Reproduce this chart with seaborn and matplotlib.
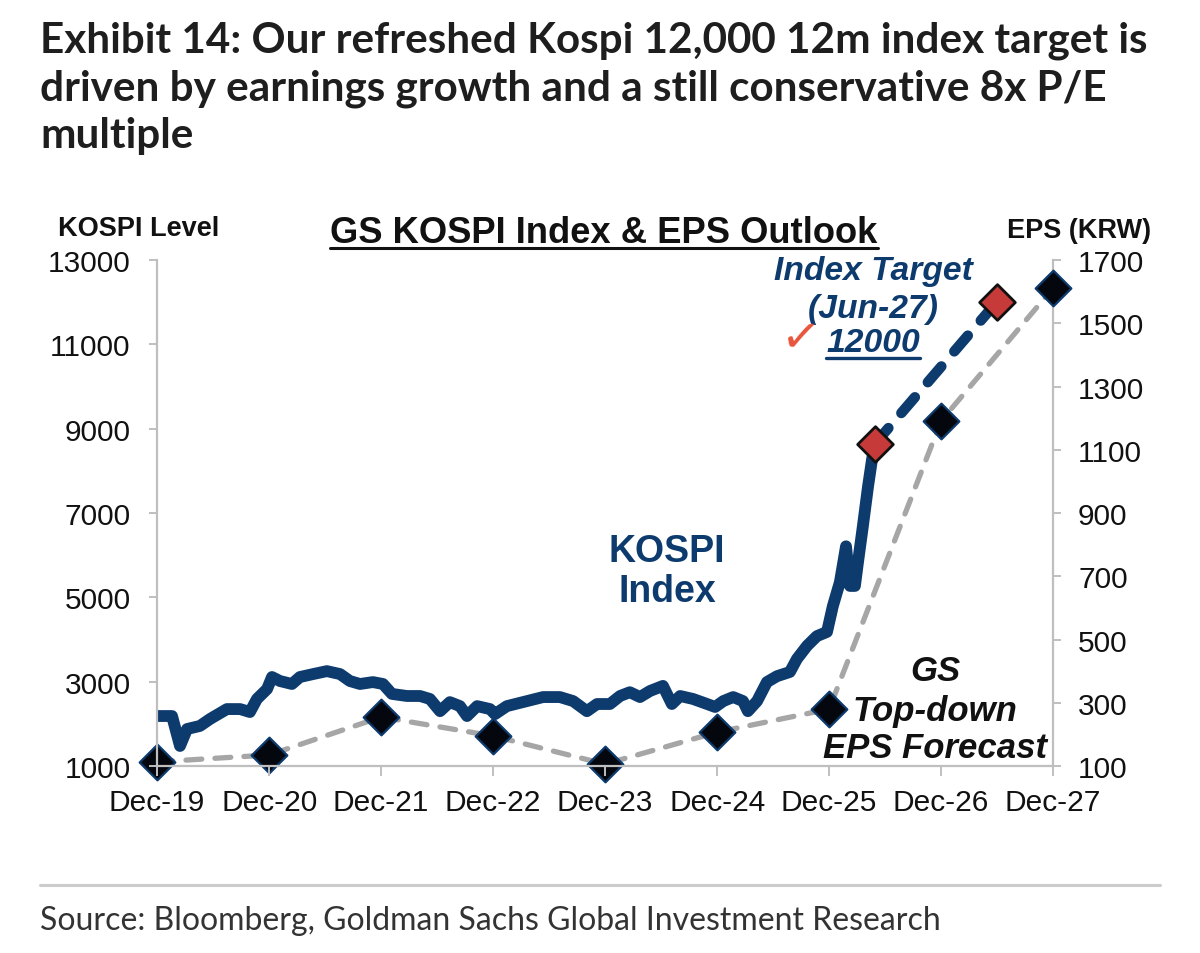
import matplotlib
matplotlib.use("Agg")
import matplotlib.pyplot as plt
from matplotlib.lines import Line2D
import pandas as pd
import seaborn as sns

# KOSPI index level
kospi_dates = [
    "2020-01-03", "2020-02-18", "2020-03-15", "2020-04-07", "2020-05-19", "2020-06-21",
    "2020-08-15", "2020-09-27", "2020-10-29", "2020-11-21", "2020-12-24", "2021-01-09",
    "2021-02-04", "2021-03-15", "2021-04-10", "2021-05-23", "2021-07-07", "2021-08-19",
    "2021-09-20", "2021-10-23", "2021-12-04", "2022-01-06", "2022-02-04", "2022-03-25",
    "2022-05-07", "2022-06-08", "2022-07-11", "2022-08-12", "2022-09-14", "2022-10-07",
    "2022-11-09", "2022-12-21", "2023-01-06", "2023-02-14", "2023-04-21", "2023-06-12",
    "2023-08-06", "2023-09-18", "2023-11-02", "2023-12-05", "2024-01-16", "2024-02-18",
    "2024-03-21", "2024-04-23", "2024-05-26", "2024-07-07", "2024-08-05", "2024-09-01",
    "2024-10-13", "2024-11-28", "2024-12-24", "2025-01-20", "2025-02-21", "2025-03-25",
    "2025-04-10", "2025-05-10", "2025-06-11", "2025-07-14", "2025-08-25", "2025-09-17",
    "2025-10-20", "2025-11-21", "2025-12-24", "2026-01-12", "2026-02-04", "2026-02-24",
    "2026-03-09", "2026-03-25", "2026-04-04", "2026-04-20", "2026-05-07", "2026-05-20",
    "2026-05-29",
]
kospi_level = [
    2185, 2185, 1475, 1877, 1950, 2115,
    2350, 2350, 2280, 2590, 2825, 3110,
    3015, 2945, 3110, 3180, 3250, 3180,
    3015, 2945, 2990, 2945, 2710, 2660,
    2660, 2590, 2300, 2515, 2420, 2185,
    2420, 2350, 2230, 2420, 2540, 2635,
    2635, 2540, 2300, 2470, 2470, 2660,
    2750, 2635, 2780, 2900, 2470, 2660,
    2590, 2470, 2400, 2540, 2635, 2540,
    2300, 2540, 2990, 3130, 3230, 3540,
    3850, 4080, 4180, 4790, 5360, 6210,
    5270, 5270, 5830, 6690, 7640, 8280,
    8590,
]

# GS top-down EPS (right axis)
eps_dates = ["2019-12-31", "2020-12-31", "2021-12-31", "2022-12-31", "2023-12-31",
             "2024-12-31", "2025-12-31", "2026-12-31", "2027-12-31"]
eps_krw = [113, 135, 255, 195, 106, 207, 280, 1191, 1611]

# index target path
target_dates = ["2026-05-29", "2027-06-30"]
target_level = [8640, 12000]

tick_labels = ["Dec-19", "Dec-20", "Dec-21", "Dec-22", "Dec-23",
               "Dec-24", "Dec-25", "Dec-26", "Dec-27"]
left_ticks = [1000, 3000, 5000, 7000, 9000, 11000, 13000]
right_ticks = [100, 300, 500, 700, 900, 1100, 1300, 1500, 1700]

NAVY = "#0D3B6E"
GREY = "#A6A6A6"
RED = "#C63B3A"
SPINE = "#BFBFBF"
W, H = 1200, 954

sns.set_style("white")
plt.rcParams["font.family"] = ["Liberation Sans", "DejaVu Sans"]

kospi = pd.DataFrame({"date": pd.to_datetime(kospi_dates), "level": kospi_level})
eps = pd.DataFrame({"date": pd.to_datetime(eps_dates), "eps": eps_krw})
target = pd.DataFrame({"date": pd.to_datetime(target_dates), "level": target_level})

fig = plt.figure(figsize=(W / 100, H / 100), dpi=100)
ax = fig.add_axes([157 / W, 1 - 767 / H, (1053 - 157) / W, (767 - 261) / H])
ax2 = ax.twinx()
ax.set_zorder(ax2.get_zorder() + 1)
ax.patch.set_visible(False)

# EPS line + diamonds on right axis
sns.lineplot(data=eps, x="date", y="eps", ax=ax2, color=GREY, lw=3.8,
             linestyle=(0, (3.0, 2.5)), dash_capstyle="round", clip_on=False)
sns.scatterplot(data=eps, x="date", y="eps", ax=ax2, marker="D", s=330,
                color="#05070F", edgecolor=NAVY, linewidth=1.6, clip_on=False, zorder=5)

# KOSPI and target
sns.lineplot(data=kospi, x="date", y="level", ax=ax, color=NAVY, lw=8.5,
             solid_capstyle="round", solid_joinstyle="round")
sns.lineplot(data=target, x="date", y="level", ax=ax, color=NAVY, lw=7.5,
             linestyle=(0, (2.0, 1.9)), dash_capstyle="round")
sns.scatterplot(data=target, x="date", y="level", ax=ax, marker="D", s=330,
                color=RED, edgecolor="#111111", linewidth=2.0, clip_on=False, zorder=6)

xt = pd.to_datetime(eps_dates)
for a in (ax, ax2):
    a.set_xlim(xt[0], xt[-1])
    a.set_xlabel("")
    a.set_ylabel("")
ax.set_ylim(1000, 13000)
ax2.set_ylim(100, 1700)
ax.set_xticks(xt)
ax.set_xticklabels(tick_labels)
ax.set_yticks(left_ticks)
ax.set_yticklabels([str(v) for v in left_ticks])
ax2.set_yticks(right_ticks)
ax2.set_yticklabels([str(v) for v in right_ticks])

for a in (ax, ax2):
    for side in a.spines:
        a.spines[side].set_visible(False)
ax.spines["left"].set_visible(True)
ax.spines["bottom"].set_visible(True)
ax2.spines["right"].set_visible(True)
for sp in (ax.spines["left"], ax.spines["bottom"], ax2.spines["right"]):
    sp.set_color(SPINE)
    sp.set_linewidth(1.6)

ax.tick_params(axis="y", direction="out", length=6, width=1.4, color=SPINE,
               labelsize=21.5, pad=13, left=True)
ax.tick_params(axis="x", direction="out", length=7, width=1.4, color=SPINE,
               labelsize=21.5, pad=9, bottom=True)
ax2.tick_params(axis="y", direction="out", length=6, width=1.4, color=SPINE,
                labelsize=21.5, pad=12, right=True)
for a in (ax, ax2):
    for lab in a.get_xticklabels() + a.get_yticklabels():
        lab.set_color("#111111")

renderer = fig.canvas.get_renderer()


def fig_text(x, base, s, **kw):
    return fig.text(x / W, 1 - base / H, s, va="baseline", **kw)


def fit_width(t, width_px):
    w = t.get_window_extent(renderer).width
    t.set_fontsize(t.get_fontsize() * width_px / w)


def underline(t, y_px, lw, color):
    bb = t.get_window_extent(renderer)
    fig.add_artist(Line2D([bb.x0 / W, bb.x1 / W], [1 - y_px / H] * 2,
                          transform=fig.transFigure, color=color, lw=lw))


# headline
title_font = ["Lato", "DejaVu Sans"]
t1 = fig_text(40, 52, "Exhibit 14: Our refreshed Kospi 12,000 12m index target is",
              fontsize=30, fontweight="bold", family=title_font, color="#1E1E1E")
fit_width(t1, 1108)
fs = t1.get_fontsize()
fig_text(40, 100, "driven by earnings growth and a still conservative 8x P/E",
         fontsize=fs, fontweight="bold", family=title_font, color="#1E1E1E")
fig_text(40, 148, "multiple", fontsize=fs, fontweight="bold", family=title_font,
         color="#1E1E1E")

# chart headings
sub = fig_text(604, 243, "GS KOSPI Index & EPS Outlook", fontsize=26.2,
               fontweight="bold", ha="center", color="#111111")
underline(sub, 249, 2.2, "#111111")
fig_text(58, 236, "KOSPI Level", fontsize=19.5, fontweight="bold", color="#111111")
fig_text(1007, 238, "EPS (KRW)", fontsize=19.5, fontweight="bold", color="#111111")

# annotations
fig_text(667, 562, "KOSPI", fontsize=27, fontweight="bold", ha="center", color=NAVY)
fig_text(667, 602, "Index", fontsize=27, fontweight="bold", ha="center", color=NAVY)

for txt, base in [("Index Target", 280), ("(Jun-27)", 318)]:
    fig_text(873, base, txt, fontsize=24.2, fontweight="bold", style="italic",
             ha="center", color=NAVY)
tgt = fig_text(873, 352, "12000", fontsize=24.2, fontweight="bold", style="italic",
               ha="center", color=NAVY)
underline(tgt, 359, 2.4, NAVY)
fig_text(800, 356, "\u2713", fontsize=34, ha="center", color="#E8543A",
         family=["DejaVu Sans"], rotation=-6)

for txt, base in [("GS", 681), ("Top-down", 721), ("EPS Forecast", 758)]:
    fig_text(935, base, txt, fontsize=25, fontweight="bold", style="italic",
             ha="center", color="#111111")

# footer
fig.add_artist(Line2D([40 / W, 1160 / W], [1 - 886 / H] * 2, transform=fig.transFigure,
                      color="#CCCCCC", lw=2.2))
src = fig_text(40, 930, "Source: Bloomberg, Goldman Sachs Global Investment Research",
               fontsize=20, family=["Liberation Sans Narrow", "Lato", "DejaVu Sans"],
               color="#333333")
fit_width(src, 902)

fig.savefig("out.png", dpi=100, facecolor="white")
